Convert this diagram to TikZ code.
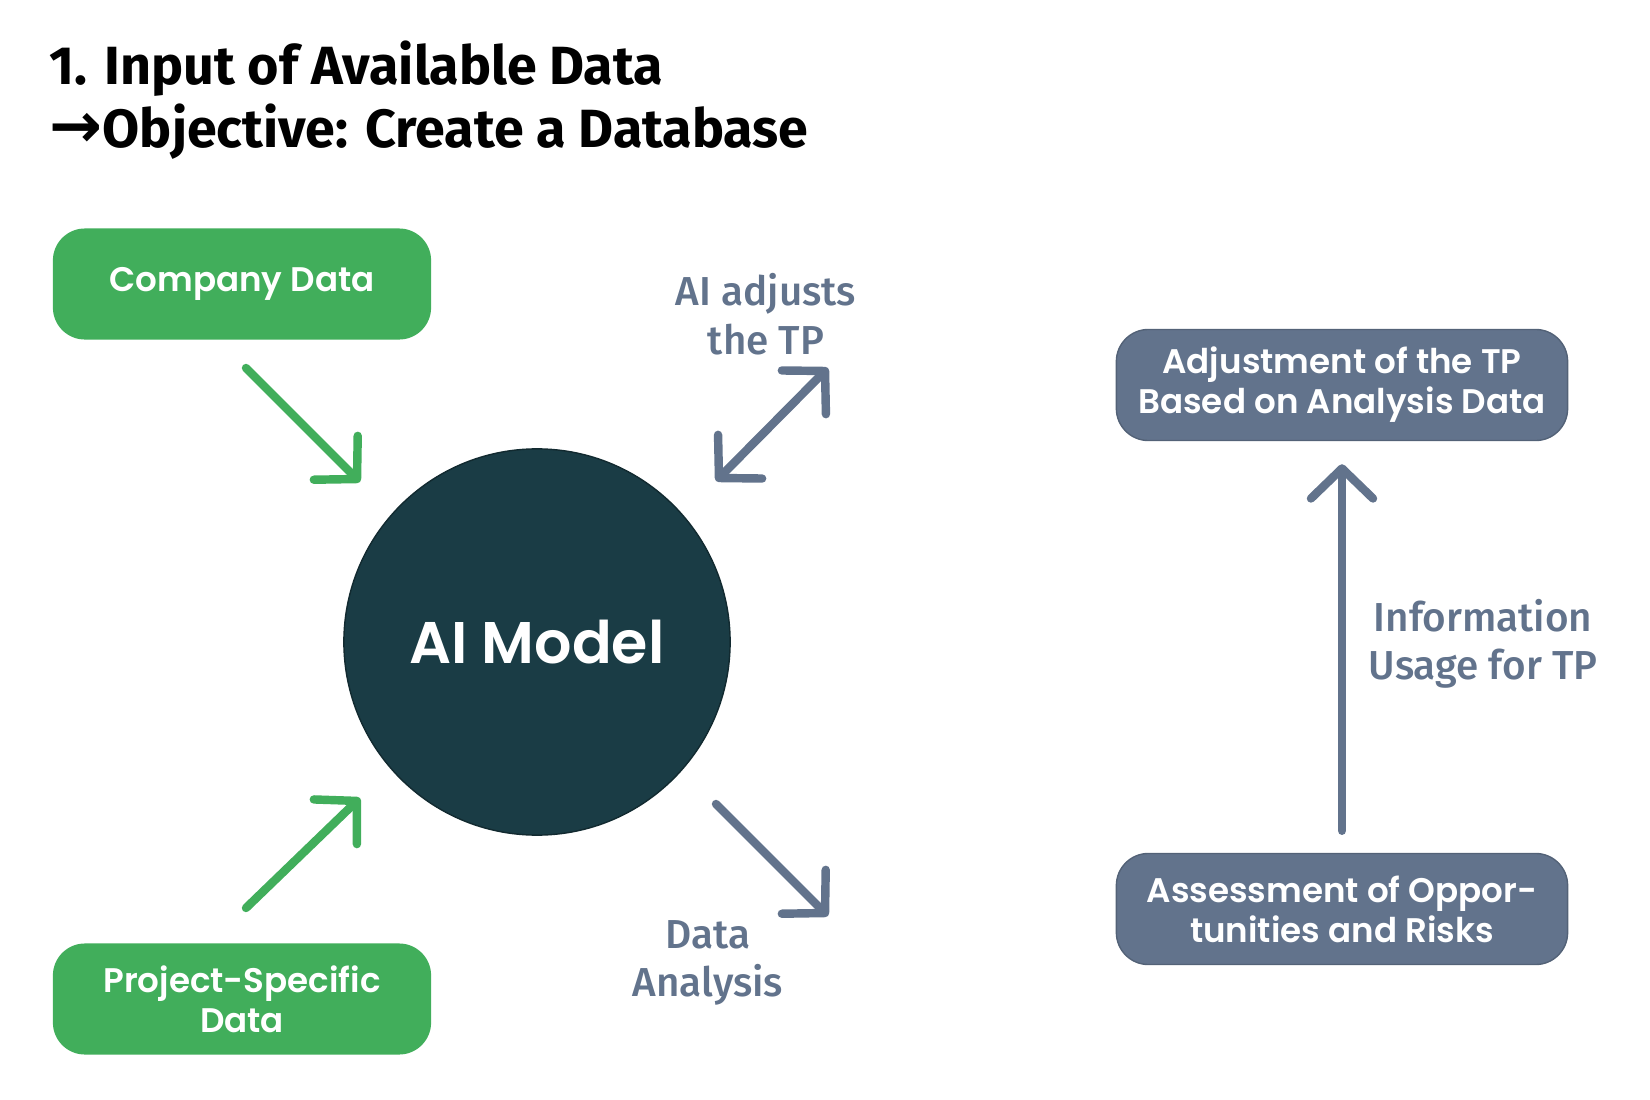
\documentclass[tikz,border=0pt]{standalone}
\usepackage{fontspec}
\setmainfont{Poppins}[BoldFont=* SemiBold]
\newfontfamily\titlefont{Fira Sans}
\newfontfamily\labelfont{Fira Sans}[UprightFont=* Medium]
\newfontfamily\symfont{DejaVu Sans}
\usetikzlibrary{arrows.meta}
\definecolor{leafgreen}{HTML}{41AE5B}
\definecolor{slate}{HTML}{62738C}
\definecolor{deepteal}{HTML}{1A3C45}
\tikzset{>={Straight Barb[round,length=3mm,width=6.2mm]},
  databox/.style={rounded corners=3.2mm, minimum width=3.78cm, minimum height=1.11cm,
    align=center, text=white, font=\bfseries\fontsize{9.7pt}{11.4pt}\selectfont},
  greenbox/.style={databox, fill=leafgreen},
  slatebox/.style={databox, fill=slate, draw=slate!85!black, line width=0.4pt, minimum width=4.51cm},
  flow/.style={line width=2.4pt, line cap=round, ->},
  flowlabel/.style={align=center, text=slate, font=\labelfont\fontsize{11.5pt}{13.8pt}\selectfont},
  headline/.style={anchor=base west, inner sep=0pt, font=\titlefont\bfseries\fontsize{15.3pt}{18pt}\selectfont}
}

\begin{document}
\begin{tikzpicture}[x=0.01cm, y=-0.01cm]
\useasboundingbox (0,0) rectangle (1650,1100);
% title
\node[headline] (head1) at (49,84) {1. Input of Available Data};
\node[headline] (head2) at (49,147) {{\symfont\bfseries\fontsize{18pt}{18pt}\selectfont →}Objective: Create a Database};
% inputs and model
\node[greenbox] (company) at (242,284) {Company Data};
\node[greenbox] (project) at (242,999) {Project-Specific\\Data};
\node[circle, fill=deepteal, draw=deepteal!70!black, minimum size=3.86cm, text=white,
  font=\bfseries\fontsize{16.7pt}{20pt}\selectfont] (model) at (537,642) {AI Model};
% right column
\node[slatebox] (adjust) at (1342,385) {Adjustment of the TP\\Based on Analysis Data};
\node[slatebox] (assess) at (1342,909) {Assessment of Oppor-\\tunities and Risks};
% arrow ends
\coordinate (c1) at (246,368); \coordinate (c2) at (360,482);
\coordinate (p1) at (246,908); \coordinate (p2) at (360,798);
\coordinate (t1) at (716,481); \coordinate (t2) at (828,368);
\coordinate (d1) at (716,804); \coordinate (d2) at (828,916);
\draw[flow, leafgreen] (c1) -- (c2);
\draw[flow, leafgreen] (p1) -- (p2);
\draw[flow, slate, <->] (t1) -- (t2);
\draw[flow, slate] (d1) -- (d2);
\draw[flow, slate, shorten <=2.2mm, shorten >=2.3mm] (assess) -- (adjust);
% labels
\node[flowlabel] (adjlabel) at (766,314) {AI adjusts\\the TP};
\node[flowlabel] (analabel) at (708,963) {Data\\Analysis};
\node[flowlabel] (infolabel) at (1483,644) {Information\\Usage for TP};
\end{tikzpicture}
\end{document}
